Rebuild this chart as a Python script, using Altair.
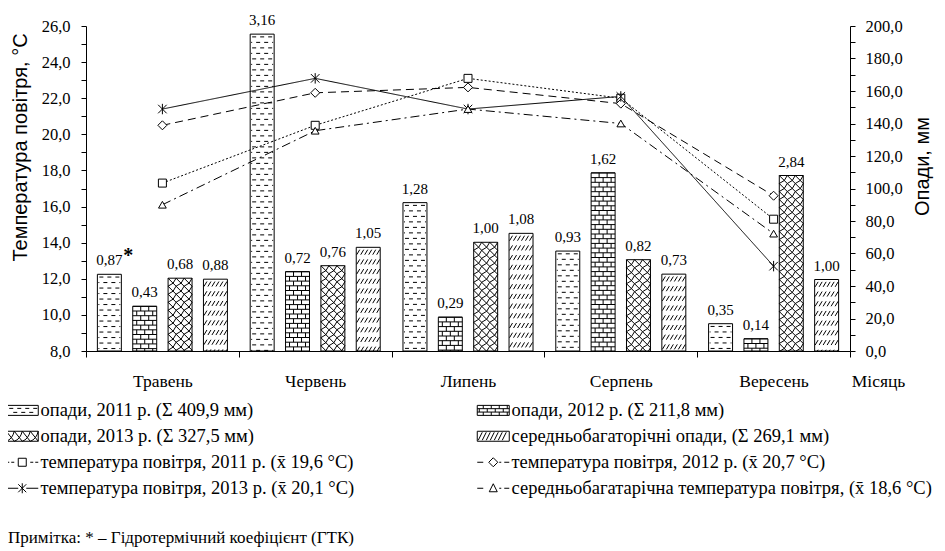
import altair as alt
import pandas as pd

# ---------------- data ----------------
months = ["Травень", "Червень", "Липень", "Серпень", "Вересень"]
bar_keys = ["p2011", "p2012", "p2013", "pavg"]
precip_2011 = [47.2, 195.0, 91.3, 61.5, 16.8]
precip_2012 = [27.5, 48.8, 20.8, 109.6, 7.5]
precip_2013 = [44.8, 52.5, 66.9, 56.2, 108.0]
precip_avg = [44.2, 63.8, 72.4, 47.3, 44.0]
gtk_2011 = ["0,87", "3,16", "1,28", "0,93", "0,35"]
gtk_2012 = ["0,43", "0,72", "0,29", "1,62", "0,14"]
gtk_2013 = ["0,68", "0,76", "1,00", "0,82", "2,84"]
gtk_avg = ["0,88", "1,05", "1,08", "0,73", "1,00"]

temp_keys = ["t2011", "t2012", "t2013", "tavg"]
temp_2011 = [17.3, 20.5, 23.1, 22.0, 15.3]
temp_2012 = [20.5, 22.3, 22.6, 21.7, 16.6]
temp_2013 = [21.4, 23.1, 21.4, 22.1, 12.7]
temp_avg = [16.1, 20.2, 21.4, 20.6, 14.5]

legend_labels = [
    "опади, 2011 р. (Σ 409,9 мм)",
    "опади, 2012 р. (Σ 211,8 мм)",
    "опади, 2013 р. (Σ 327,5 мм)",
    "середньобагаторічні опади, (Σ 269,1 мм)",
    "температура повітря, 2011 р. (x\u0304 19,6 °С)",
    "температура повітря, 2012 р. (x\u0304 20,7 °С)",
    "температура повітря, 2013 р. (x\u0304 20,1 °С)",
    "середньобагатарічна температура повітря, (x\u0304 18,6 °С)",
]
note_text = "Примітка: * – Гідротермічний коефіцієнт (ГТК)"

# ---------------- tables ----------------
precip = {"p2011": precip_2011, "p2012": precip_2012, "p2013": precip_2013, "pavg": precip_avg}
gtk = {"p2011": gtk_2011, "p2012": gtk_2012, "p2013": gtk_2013, "pavg": gtk_avg}
bar_rows = []
for k in bar_keys:
    for i, m in enumerate(months):
        bar_rows.append({"month": m, "key": k, "mm": precip[k][i], "gtk": gtk[k][i],
                         "note": "*" if (k == "p2011" and i == 0) else ""})
bars_df = pd.DataFrame(bar_rows)

temps = {"t2011": temp_2011, "t2012": temp_2012, "t2013": temp_2013, "tavg": temp_avg}
temps_df = pd.DataFrame([{"month": m, "key": k, "t": temps[k][i]}
                         for k in temp_keys for i, m in enumerate(months)])

# pattern texture rows (style only: spacing in mm of the 0-200 axis)
MM_PER_PX = 200 / 325


def pattern_rows(key, h_px):
    h = h_px * MM_PER_PX
    rows = []
    for m, v in zip(months, precip[key]):
        k = 0
        while True:
            c = v - (k + 0.5) * h
            if c + h / 2 <= 0.05:
                break
            rows.append({"month": m, "key": key, "lvl": c, "par": k % 2})
            k += 1
    return pd.DataFrame(rows)


pat2011 = pattern_rows("p2011", 5.5)
pat2012 = pattern_rows("p2012", 4.7)
pat2013 = pattern_rows("p2013", 8.0)
patavg = pattern_rows("pavg", 9.7)

# pattern glyphs (px units, symbol size 4 -> scale 1)
P2011A = "M-10,0H-6M-2,0H2M6,0H10"
P2011B = "M-11,0H-10M-6,0H-2M2,0H6M10,0H11"
P2012A = "M-12,-2.35H12M-4,-2.35V2.35M4,-2.35V2.35"
P2012B = "M-12,-2.35H12M-8,-2.35V2.35M0,-2.35V2.35M8,-2.35V2.35"
P2013 = ("M-12,-4L-4,4M-4,-4L4,4M4,-4L12,4"
         "M-12,4Q-6,2,-4,-4M-4,4Q2,2,4,-4M4,4Q10,2,12,-4")
PAVG = "".join(f"M{cx-1.5},2.5L{cx+1.5},-2.5" for cx in [-10, -6, -2, 2, 6, 10])

RECT = "M-16,-5H16V5H-16Z"
L2011 = RECT + "M-13,-2H-9M-5,-2H-1M3,-2H7M11,-2H15M-9,2H-5M-1,2H3M7,2H11"
L2012 = (RECT + "M-16,-1.7H16M-16,1.7H16"
         + "".join(f"M{x},-5V-1.7" for x in [-10, -2, 6, 14])
         + "".join(f"M{x},-1.7V1.7" for x in [-14, -6, 2, 10])
         + "".join(f"M{x},1.7V5" for x in [-10, -2, 6, 14]))
L2013 = (RECT + "".join(f"M{x},-5L{x+8},5M{x},5Q{x+6},3,{x+8},-5" for x in [-16, -8, 0, 8]))
LAVG = RECT + "".join(f"M{x-2},4L{x+2},-4" for x in [-13, -9, -5, -1, 3, 7, 11])
LT2011 = "M-16,0H-13M-11,0H-8M-4,-4H4V4H-4ZM8,0H11M13,0H16"
LT2012 = "M-16,0H-10M0,-4.5L4.5,0L0,4.5L-4.5,0ZM6,0H8M11,0H16"
LT2013 = "M-16,0H-4M4,0H16M0,-5V5M-4,-4L4,4M-4,4L4,-4"
LTAVG = "M-16,0H-10M0,-4.5L4,3.5L-4,3.5ZM6,0H8M11,0H16"
legend_paths = [L2011, L2012, L2013, LAVG, LT2011, LT2012, LT2013, LTAVG]
legend_df = pd.DataFrame({"lab": legend_labels})

ASTER = "M0,-1.1V1.1M-0.9,-0.9L0.9,0.9M-0.9,0.9L0.9,-0.9"

SERIF = "Liberation Serif"
SANS = "Liberation Sans"

xscale = alt.Scale(domain=months, paddingInner=0, paddingOuter=0)
x_axis = alt.X("month:N", sort=months, scale=xscale,
               axis=alt.Axis(title="Місяць", titleX=792, titleY=30, titleAlign="center",
                             titleBaseline="middle", titleFont=SERIF, titleFontSize=17.5,
                             titleFontWeight="normal", titleColor="black",
                             labelAngle=0, labelBaseline="middle", labelPadding=24,
                             labelFont=SERIF, labelFontSize=17.5, labelColor="black",
                             tickBand="extent", tickSize=6, tickColor="black",
                             domainColor="black", grid=False))
xoff = alt.XOffset("key:N", sort=bar_keys,
                   scale=alt.Scale(domain=bar_keys, paddingInner=0.322, paddingOuter=0.322))
mm_scale = alt.Scale(domain=[0, 200], nice=False, zero=True)
t_scale = alt.Scale(domain=[8, 26], nice=False, zero=False)

y_mm_axis = alt.Y("mm:Q", scale=mm_scale,
                  axis=alt.Axis(orient="right", title="Опади, мм", values=list(range(0, 201, 10)),
                                labelExpr="datum.value % 20 == 0 ? replace(format(datum.value, '.1f'), '.', ',') : ''",
                                tickSize=5, labelPadding=10, labelFont=SERIF, labelFontSize=16.5,
                                labelColor="black", tickColor="black", domainColor="black",
                                titleFont=SANS, titleFontSize=20, titleFontWeight="normal",
                                titleColor="black", titleAngle=270, titleX=72, titleY=140,
                                titleAlign="center", titleBaseline="middle",
                                labelOverlap=False, grid=False))

bars = alt.Chart(bars_df).mark_bar(fill="white", stroke="black", strokeWidth=1).encode(
    x=x_axis, xOffset=xoff, y=y_mm_axis)


def pat_layer(df, shape, par=None):
    c = alt.Chart(df)
    if par is not None:
        c = c.transform_filter(alt.datum.par == par)
    return c.mark_point(shape=shape, size=4, filled=False, stroke="black", strokeWidth=1,
                        opacity=1, clip=True).encode(
        x=x_axis, xOffset=xoff, y=alt.Y("lvl:Q", scale=mm_scale, axis=None))


patterns = [pat_layer(pat2011, P2011A, 0), pat_layer(pat2011, P2011B, 1),
            pat_layer(pat2012, P2012A, 0), pat_layer(pat2012, P2012B, 1),
            pat_layer(pat2013, P2013), pat_layer(patavg, PAVG)]

labels = alt.Chart(bars_df).mark_text(font=SERIF, fontSize=15, baseline="alphabetic", dy=-9,
                                      color="black").encode(
    x=x_axis, xOffset=xoff, y=alt.Y("mm:Q", scale=mm_scale, axis=None), text="gtk:N")
star = alt.Chart(bars_df).transform_filter(alt.datum.note == "*").mark_text(
    font=SERIF, fontSize=20, fontWeight="bold", baseline="alphabetic", dx=19, dy=-12,
    color="black").encode(
    x=x_axis, xOffset=xoff, y=alt.Y("mm:Q", scale=mm_scale, axis=None), text="note:N")

y_t_axis = alt.Y("t:Q", scale=t_scale,
                 axis=alt.Axis(orient="left", title="Температура повітря, °С", values=list(range(8, 27)),
                               labelExpr="datum.value % 2 == 0 ? replace(format(datum.value, '.1f'), '.', ',') : ''",
                               tickSize=5, labelPadding=11, labelFont=SERIF, labelFontSize=16.5,
                               labelColor="black", tickColor="black", domainColor="black",
                               titleFont=SANS, titleFontSize=20, titleFontWeight="normal",
                               titleColor="black", titleAngle=270, titleX=-66, titleY=121,
                               titleAlign="center", titleBaseline="middle",
                               labelOverlap=False, grid=False))

lines = alt.Chart(temps_df).mark_line(color="black", strokeWidth=1).encode(
    x=x_axis, y=y_t_axis, detail="key:N",
    strokeDash=alt.StrokeDash("key:N", scale=alt.Scale(domain=temp_keys,
                                                       range=[[2, 2], [8, 5], [1, 0], [9, 4, 2, 4]]),
                              legend=None))

marker_shapes = {"t2011": ("square", 64), "t2012": ("diamond", 81), "t2013": (ASTER, 90),
                 "tavg": ("triangle-up", 60)}
points = []
for k in temp_keys:
    shp, sz = marker_shapes[k]
    points.append(alt.Chart(temps_df).transform_filter(alt.datum.key == k).mark_point(
        shape=shp, size=sz, filled=True, fill="white", stroke="black", strokeWidth=1, opacity=1).encode(
        x=x_axis, y=alt.Y("t:Q", scale=t_scale, axis=None)))

legend_layer = alt.Chart(legend_df).transform_filter(alt.datum.lab == "none").mark_point(
    size=4, filled=False, color="black", strokeWidth=1).encode(
    x=x_axis, y=alt.Y("t:Q", scale=t_scale, axis=None),
    shape=alt.Shape("lab:N", sort=legend_labels,
                    scale=alt.Scale(domain=legend_labels, range=legend_paths),
                    legend=alt.Legend(title=None, orient="none", legendX=-73, legendY=375,
                                      direction="horizontal",
                                      columns=2, columnPadding=120, rowPadding=7, padding=0,
                                      symbolSize=4, symbolStrokeWidth=1, symbolStrokeColor="black",
                                      symbolOpacity=1,
                                      labelFont=SERIF, labelFontSize=18.5, labelColor="black",
                                      labelOffset=9, labelLimit=0)))

chart = alt.layer(bars, *patterns, labels, star, lines, *points, legend_layer).resolve_scale(
    y="independent").properties(
    width=764, height=325,
    background="white",
    autosize=alt.AutoSizeParams(type="none"),
    padding={"left": 78, "top": 18, "right": 87, "bottom": 200},
    title=alt.TitleParams(text=note_text, orient="bottom", anchor="start", frame="group",
                          offset=32, dx=-78, font=SERIF, fontSize=17, fontWeight="normal",
                          color="black"),
).configure_view(stroke=None)

chart.save("out.html", embed_options={"renderer": "svg", "actions": False})
